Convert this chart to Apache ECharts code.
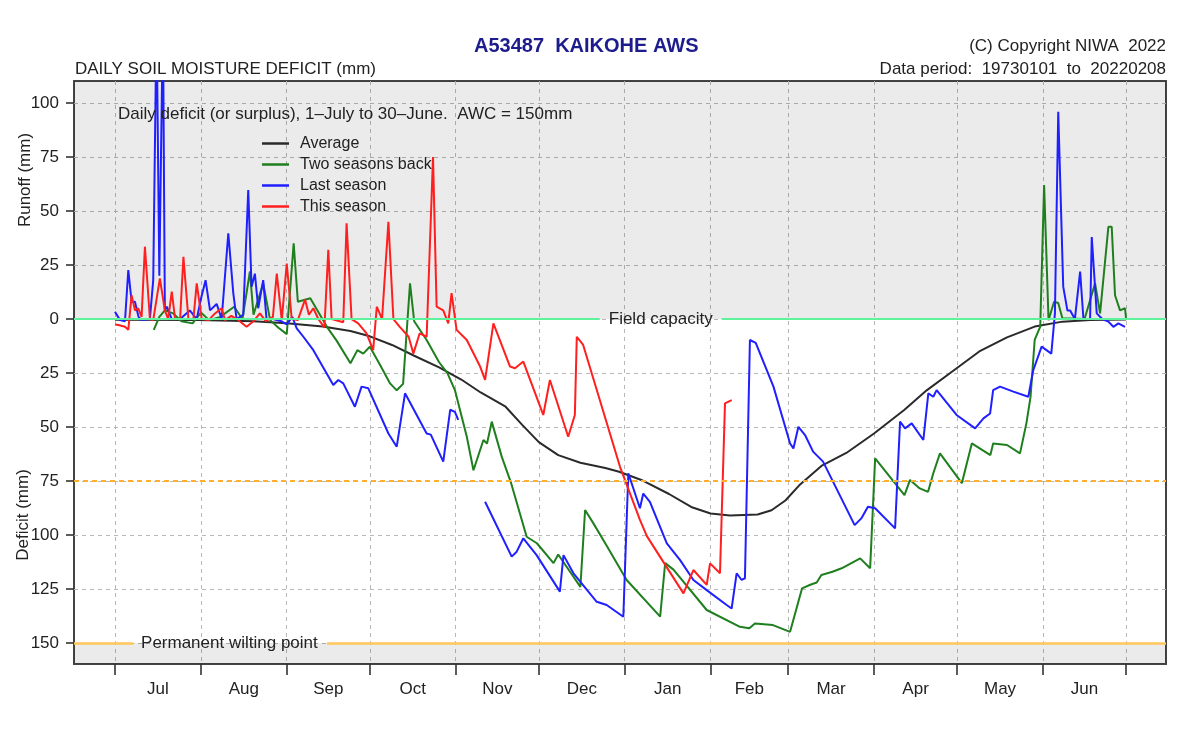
<!DOCTYPE html>
<html>
<head>
<meta charset="utf-8">
<script src="https://cdn.jsdelivr.net/npm/echarts@6/dist/echarts.min.js"></script>
<style>html,body{margin:0;padding:0;background:#fff}#c{width:1200px;height:744px}</style>
</head>
<body>
<div id="c"></div>
<script>
// ---------- data (x = days since 1 July, y = runoff (+) / -deficit (-) in mm) ----------
const monthNames = ['Jul','Aug','Sep','Oct','Nov','Dec','Jan','Feb','Mar','Apr','May','Jun'];
const monthStarts = [0,31,62,92,123,153,184,215,243,274,304,335,365];
const monthMids = [15.5,46.5,77,107.5,138,168.5,199.5,229,258.5,289,319.5,350];
const yTicks = [-150,-125,-100,-75,-50,-25,0,25,50,75,100];

const fieldCapacity = 0;
const stressLevel = -75;
const wiltingPoint = -150;

const average = [[0,-0.3],[30,-0.5],[50,-1],[62,-2],[75,-3.5],[85,-5.5],[92,-8],[100,-12],[108,-17],[117,-22.4],[125,-28],[132,-34],[141,-40.6],[147,-49],[153,-57],[160,-63],[168,-66.5],[177,-69],[182,-70.7],[190,-74.5],[200,-81],[208,-87],[215,-90],[222,-91],[232,-90.5],[237,-88.5],[242,-84],[247,-77],[255,-68],[264,-62],[274,-53],[285,-42],[293,-33],[302,-24.5],[312,-15],[322,-8.5],[332,-3.5],[342,-1.2],[352,-0.4],[365,-0.2]];

const twoSeasonsBack = [[14,-5],[16,1],[18,4],[21,2.6],[24,-1],[28,-2],[31,3],[34,-0.5],[38,1],[43,5.7],[46,0],[48.7,22],[50,2],[53.5,16.5],[56,-0.5],[59,-4],[62,-7],[64.5,35],[66,8],[70.5,9.6],[76.5,-3.6],[80,-10],[85,-20.5],[87.5,-14.4],[89.6,-16],[92,-12.8],[96,-22],[99.3,-29.8],[101.7,-33],[104,-30],[106.5,16.5],[108,-1],[112.5,-9.7],[117,-20],[120,-25],[122.7,-32.9],[127,-54.5],[129.4,-70],[133,-56],[134.3,-57.6],[136,-47.5],[139.6,-63.7],[143,-76],[148.6,-100.8],[152.3,-103.8],[158.3,-113],[160,-109],[168,-124],[169.7,-88.4],[172.7,-94.6],[177.5,-105],[184.7,-120.8],[196.8,-137.8],[198.6,-113],[201.6,-116],[213.6,-134.7],[225.6,-142.5],[229,-143.2],[231,-141],[237.5,-141.7],[243.7,-144.8],[248,-124.7],[251,-123],[253.3,-122],[255,-118.5],[259,-117],[262.3,-115.4],[269,-110.8],[272.6,-115.4],[274.4,-64.5],[285,-81.5],[287,-74.5],[290.5,-78.4],[293.5,-80],[295.4,-71.4],[297.8,-62.2],[305.7,-76],[309.3,-57.6],[316,-63],[317,-57.6],[322,-58.3],[326.7,-62.2],[329,-48.3],[330.5,-36],[332,-9.7],[334,-3.5],[335.4,62],[337,-0.5],[339,8],[340.5,7.4],[342,0.4],[350,0],[353.8,16.5],[355.6,2.6],[358.6,42.7],[359.8,42.7],[361,11],[362.8,4],[364.6,5],[365,0]];

const lastSeason = [[0,3.4],[1.8,-0.5],[3.6,-1],[4.8,22.7],[6,8],[7.2,8],[8.5,1],[9.6,-0.5],[12.6,0],[13.8,18],[15,140],[16,20],[17.3,140],[18,4],[18.7,5.7],[20.5,0],[23.5,0],[27,4],[29.5,0],[31.2,10.3],[32.7,18],[34.3,4],[36.7,7],[38.5,0],[40.9,39.7],[42.7,12],[43.9,0],[46.3,2],[48.1,59.7],[49.3,15],[50.5,21],[51.7,5],[53.5,18],[54.7,0],[57,0],[60,-1],[62,-2.5],[64,1],[65.6,-4.3],[68,-8.2],[71.6,-14.4],[78.8,-30.5],[80.6,-28.2],[82.4,-29.8],[86.6,-40.6],[89,-31.3],[91.4,-32],[98.7,-53],[101.7,-59.1],[104.7,-34.4],[112.5,-53],[114,-53.5],[118.5,-66],[121,-42],[122.7,-43],[123.9,-46.7],[128,null],[133.6,-84.6],[143.2,-110],[145,-107.7],[147.4,-101.5],[152.2,-109.3],[160.6,-126.2],[161.9,-109.3],[165.5,-117.7],[173.9,-130.9],[177.5,-132.4],[183.5,-137.8],[185.3,-71.4],[189.5,-87.6],[190.7,-80.8],[193.1,-84.6],[199.2,-103.9],[204,-111.6],[208.8,-120.8],[213.6,-125.5],[220.8,-132.4],[222.6,-134],[224.4,-117.7],[226.2,-120.8],[227.4,-120],[229.2,-9.7],[231.3,-11],[237.7,-31.3],[243.7,-57.6],[244.9,-59.9],[246.7,-49.9],[249.1,-53.7],[252,-61.4],[255.6,-66],[267,-95.4],[269.4,-92.3],[271.8,-86.9],[274.4,-87.6],[281.6,-96.9],[283.4,-47.5],[285.2,-50.6],[287.6,-48.3],[291.8,-56],[293.6,-34.4],[295.4,-36],[296.6,-32.9],[303.8,-44.4],[310.5,-50.6],[313.5,-46],[315.9,-43.7],[317,-32.9],[319.5,-31.3],[324.3,-33.6],[329.7,-36],[331.5,-23.6],[334.5,-12.8],[338,-16],[339.3,2.6],[340.5,96],[342.3,15],[343.8,4],[344.8,4],[346.5,0],[348.4,22],[349.6,0],[352,0],[352.6,38],[354.4,2.6],[356.4,0],[358.6,-1.2],[360.4,-3.6],[362.2,-2],[364.6,-3.6]];

const thisSeason = [[0,-2.5],[1.2,-2.8],[3.6,-3.6],[4.8,-5],[6,11],[7.2,4],[8.4,5],[9.6,1],[10.8,33.5],[12.6,0],[13.8,-0.5],[16.2,18.8],[18,4],[19.2,0],[20.5,12.7],[21.7,0],[23.5,0],[24.7,28.8],[26.5,0],[28.3,0],[29.5,16.5],[31.3,0],[33.8,-0.5],[36.1,2.6],[38.5,5],[39.7,-0.5],[42,1.5],[44,0],[47.5,-3.6],[50,-1],[52.3,2.6],[54.4,-1],[57,1],[58.4,21],[60.2,-0.5],[62,25.7],[63.8,0],[66,-0.5],[68.6,9],[70,2],[71.6,5],[73.4,0],[75.6,-4],[77,32],[78.2,0],[82.4,-1.5],[83.6,44.3],[85.4,0],[87.8,-2],[90.8,-6.6],[93.2,-14.4],[94.5,5.7],[96.4,0],[98.7,45],[100.5,0],[102.8,-3.6],[106,-8.2],[107.7,-16],[110,-6.6],[112.5,-8.2],[114.8,75],[116.1,5.7],[118.5,4],[120.3,-2],[121.5,12],[123.3,-5],[127,-9.7],[131.8,-22],[133.6,-28.2],[136.6,-2],[142.6,-22],[144.4,-22.8],[147.4,-19.7],[154.6,-44.4],[157,-28.2],[163.6,-54.5],[166,-44.4],[166.7,-8.2],[169,-12],[182.3,-68.4],[189.5,-93],[192,-100.5],[205.2,-127],[208.8,-116.2],[213.6,-123.1],[214.8,-113.1],[218.4,-117.7],[220.2,-39],[222.6,-37.5]];

// ---------- chart ----------
const FONT = '"Liberation Sans", Arial, Helvetica, sans-serif';
const xMin = -14.8, xMax = 379.4, yMin = -159.7, yMax = 110.2;
const fcGap = [175, 219], fcLabelDay = 197;
const pwpGap = [6.5, 76.5], pwpLabelDay = 41.3;
const txt = '#222';

const chart = echarts.init(document.getElementById('c'), null, {renderer: 'canvas'});

function lineSeries(name, data, color) {
  return {
    name, type: 'line', data, showSymbol: false, symbol: 'none',
    lineStyle: {color, width: 2}, itemStyle: {color},
    clip: true, silent: true, animation: false, connectNulls: false
  };
}

const fcStyle = {color: '#5ff29c', width: 2.2, type: 'solid'};
const pwpStyle = {color: '#ffc65a', width: 2.5, type: 'solid'};
const stressStyle = {color: '#ffae2e', width: 2.2, type: [5, 4]};

chart.setOption({
  animation: false,
  textStyle: {fontFamily: FONT},
  title: [
    {text: 'A53487  KAIKOHE AWS', left: 474, top: 36, padding: 0,
     textStyle: {fontSize: 20, fontWeight: 'bold', color: '#1c1c8c', fontFamily: FONT}},
    {text: 'DAILY SOIL MOISTURE DEFICIT (mm)', left: 75, top: 61, padding: 0,
     textStyle: {fontSize: 17, fontWeight: 'normal', color: txt, fontFamily: FONT}},
    {text: '(C) Copyright NIWA  2022', right: 34, top: 38, padding: 0,
     textStyle: {fontSize: 17, fontWeight: 'normal', color: txt, fontFamily: FONT}},
    {text: 'Data period:  19730101  to  20220208', right: 34, top: 61, padding: 0,
     textStyle: {fontSize: 17, fontWeight: 'normal', color: txt, fontFamily: FONT}},
    {text: 'Daily deficit (or surplus), 1\u2013July to 30\u2013June.  AWC = 150mm', left: 118, top: 106, padding: 0,
     textStyle: {fontSize: 17, fontWeight: 'normal', color: txt, fontFamily: FONT}}
  ],
  legend: {
    data: ['Average', 'Two seasons back', 'Last season', 'This season'],
    orient: 'vertical', left: 262, top: 135, padding: 0,
    icon: 'rect', itemWidth: 27, itemHeight: 2.5, itemGap: 4,
    selectedMode: false,
    textStyle: {fontSize: 16, color: txt, fontFamily: FONT, lineHeight: 17, padding: [0, 0, 0, 6]}
  },
  graphic: [
    {type: 'text', x: 25, y: 180, rotation: Math.PI / 2,
     style: {text: 'Runoff (mm)', font: '17px ' + FONT, fill: txt, textAlign: 'center', textVerticalAlign: 'middle'}},
    {type: 'text', x: 23, y: 515, rotation: Math.PI / 2,
     style: {text: 'Deficit (mm)', font: '17px ' + FONT, fill: txt, textAlign: 'center', textVerticalAlign: 'middle'}}
  ],
  grid: {left: 74, top: 81, width: 1092, height: 583, show: true,
         borderColor: '#444', borderWidth: 2, backgroundColor: 'transparent'},
  xAxis: {
    type: 'value', min: xMin, max: xMax, position: 'bottom',
    axisLine: {show: false, onZero: false},
    axisTick: {show: true, inside: false, customValues: monthStarts, length: 11, lineStyle: {color: '#333', width: 1.6}},
    axisLabel: {customValues: monthMids, margin: 17, fontSize: 17, color: txt, fontFamily: FONT,
      formatter: function (v) {
        let best = 0;
        for (let i = 0; i < monthMids.length; i++) if (Math.abs(monthMids[i] - v) < Math.abs(monthMids[best] - v)) best = i;
        return monthNames[best];
      }},
    splitLine: {show: true, lineStyle: {color: '#b8b8b8', width: 1, type: [4, 4]}}
  },
  yAxis: {
    type: 'value', min: yMin, max: yMax, position: 'left',
    axisLine: {show: false, onZero: false},
    axisTick: {show: true, inside: false, customValues: yTicks, length: 8, lineStyle: {color: '#333', width: 1.6}},
    axisLabel: {customValues: yTicks, margin: 15, fontSize: 17, color: txt, fontFamily: FONT,
      formatter: function (v) { return String(Math.abs(Math.round(v))); }},
    splitLine: {show: true, lineStyle: {color: '#b8b8b8', width: 1, type: [4, 4]}}
  },
  series: [
    {
      name: 'refs', type: 'line', data: [], silent: true, animation: false,
      markArea: {
        silent: true,
        itemStyle: {color: 'rgba(0,0,0,0.08)'},
        data: [
          [{yAxis: fieldCapacity}, {yAxis: yMax}],
          [{yAxis: yMin}, {yAxis: wiltingPoint}]
        ]
      },
      markLine: {
        silent: true, symbol: ['none', 'none'], label: {show: false}, animation: false,
        data: [
          [{coord: [xMin, fieldCapacity], lineStyle: fcStyle}, {coord: [fcGap[0], fieldCapacity], lineStyle: fcStyle}],
          [{coord: [fcGap[1], fieldCapacity], lineStyle: fcStyle}, {coord: [xMax, fieldCapacity], lineStyle: fcStyle}],
          [{coord: [xMin, stressLevel], lineStyle: stressStyle}, {coord: [xMax, stressLevel], lineStyle: stressStyle}],
          [{coord: [xMin, wiltingPoint], lineStyle: pwpStyle}, {coord: [pwpGap[0], wiltingPoint], lineStyle: pwpStyle}],
          [{coord: [pwpGap[1], wiltingPoint], lineStyle: pwpStyle}, {coord: [xMax, wiltingPoint], lineStyle: pwpStyle}]
        ]
      },
      markPoint: {
        silent: true, symbol: 'rect', symbolSize: 1, animation: false,
        itemStyle: {color: 'rgba(0,0,0,0)'},
        label: {show: true, position: 'inside', formatter: '{b}', fontSize: 17, color: txt, fontFamily: FONT},
        data: [
          {name: 'Field capacity', coord: [fcLabelDay, fieldCapacity]},
          {name: 'Permanent wilting point', coord: [pwpLabelDay, wiltingPoint]}
        ]
      }
    },
    lineSeries('Average', average, '#2a2a2a'),
    lineSeries('Two seasons back', twoSeasonsBack, '#1f7f1f'),
    lineSeries('Last season', lastSeason, '#1f1fff'),
    lineSeries('This season', thisSeason, '#ff1f1f')
  ]
});
</script>
</body>
</html>
